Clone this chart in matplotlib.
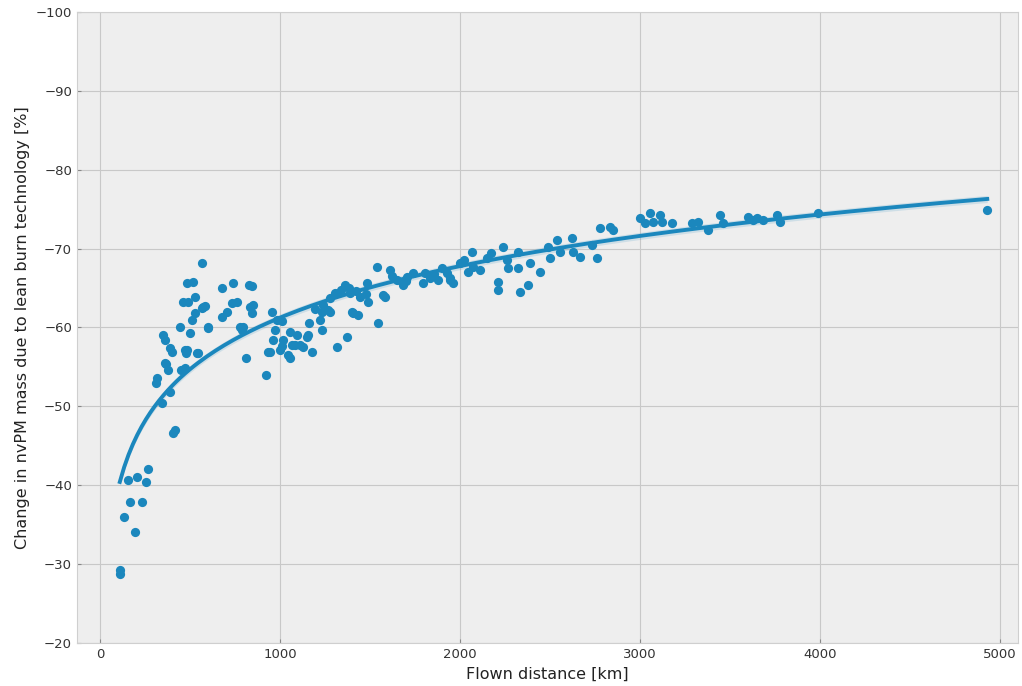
import numpy as np
import matplotlib
matplotlib.use("Agg")
import matplotlib.pyplot as plt

# flown distance [km]
distance = [
    110, 112, 133, 194, 167, 233, 156, 206, 256, 267,
    417, 406, 317, 311, 367, 344, 389, 350, 361, 389, 400,
    444, 450, 472, 472, 478, 539, 461, 489, 528, 483, 517,
    567, 511, 500, 528, 567, 583, 600, 678, 739, 828,
    678, 706, 733, 761, 789, 778, 833, 844, 811, 922, 956,
    983, 972, 933, 844, 944, 1017, 1056, 1067, 1056, 1111, 1150,
    1178, 1222, 1233, 1233, 1278, 1278, 1317, 1372, 1361, 1389,
    1400, 1433, 1444, 1483, 1489, 1544, 1539, 1572, 1583, 1611,
    1650, 1683, 1706, 1739, 1794, 1833, 1900, 1944, 1961,
    1928, 1944, 2000, 2067, 2072, 2111, 2239, 2261, 2267, 2211,
    2211, 2322, 2322, 2333, 2378, 2389, 2444, 2489, 2500, 2539,
    2556, 2622, 2628, 2667, 2733, 2761, 2778, 2833, 2850,
    3000, 3028, 3056, 3072, 3111, 3122, 3178, 3289, 3322, 3378,
    3444, 3461, 3600, 3628, 3683, 3650, 3761, 3778, 3989, 4928,
    1306, 1339, 1383, 1422, 1478, 1194, 1239, 1161, 1011, 1094,
    2022, 2044, 2150, 2172, 1856, 1878, 1011, 1806, 1700, 1622,
    961, 1044, 1083, 1128, 1156, 1267, 850, 794, 483, 544,
    600, 572, 361, 378, 1406, 1000,
]
# change in nvPM mass [%]
change = [
    -29.3, -28.7, -36.0, -34.1, -37.9, -37.9, -40.7, -41.0, -40.4, -42.1,
    -47.0, -46.6, -53.6, -53.0, -55.4, -50.4, -51.8, -59.0, -58.4, -57.4, -56.9,
    -60.0, -54.6, -54.9, -57.1, -56.8, -56.8, -63.2, -63.2, -63.9, -65.6, -65.8,
    -68.2, -61.0, -59.3, -61.8, -62.5, -62.7, -59.9, -65.0, -65.6, -65.4,
    -61.3, -62.0, -63.1, -63.2, -59.7, -60.0, -62.6, -61.8, -56.1, -54.0, -62.0,
    -61.0, -59.7, -56.9, -65.2, -56.9, -58.4, -59.4, -57.8, -56.1, -57.8, -58.8,
    -56.9, -61.0, -59.7, -62.0, -62.0, -63.7, -57.5, -58.8, -65.4, -64.4,
    -62.0, -61.6, -63.9, -65.6, -63.2, -60.6, -67.7, -64.1, -63.8, -67.3,
    -66.0, -65.4, -66.4, -66.9, -65.6, -66.3, -67.5, -66.3, -65.6,
    -66.9, -66.0, -68.2, -69.6, -67.7, -67.3, -70.2, -68.5, -67.5, -65.8,
    -64.7, -69.6, -67.5, -64.5, -65.4, -68.2, -67.0, -70.2, -68.8, -71.1,
    -69.6, -71.3, -69.6, -68.9, -70.5, -68.8, -72.6, -72.7, -72.3,
    -73.9, -73.2, -74.5, -73.4, -74.3, -73.4, -73.2, -73.2, -73.4, -72.4,
    -74.3, -73.2, -74.0, -73.6, -73.6, -73.9, -74.3, -73.4, -74.5, -74.9,
    -64.4, -64.8, -65.0, -64.6, -64.2, -62.3, -62.8, -60.5, -60.8, -59.0,
    -68.6, -67.0, -68.8, -69.4, -66.8, -66.0, -57.6, -66.9, -65.9, -66.5,
    -58.4, -56.5, -57.8, -57.5, -59.0, -62.2, -62.8, -60.0, -57.1, -56.8,
    -60.0, -62.6, -55.5, -54.6, -61.8, -57.2,
]

COLOR = "#1b87bd"

plt.style.use("bmh")
fig = plt.figure(figsize=(10.22, 6.86), dpi=100)
ax = fig.add_axes([0.0753, 0.0627, 0.921, 0.92])
ax.set_facecolor("#eeeeee")

x = np.array(distance, dtype=float)
y = np.array(change, dtype=float)
ax.scatter(x, y, s=44, color=COLOR, zorder=3, linewidths=0)

# logarithmic fit, like regplot(logx=True)
b, a = np.polyfit(np.log(x), y, 1)
xs = np.linspace(x.min(), x.max(), 200)
ys = a + b * np.log(xs)
resid = y - (a + b * np.log(x))
se = np.std(resid) / np.sqrt(len(x)) * 1.5
ax.fill_between(xs, ys - se, ys + se, color=COLOR, alpha=0.15, lw=0, zorder=3)
ax.plot(xs, ys, color=COLOR, lw=2.8, zorder=4)

ax.set_xlim(-128, 5100)
ax.set_ylim(-20, -100)
ax.set_xticks([0, 1000, 2000, 3000, 4000, 5000])
ax.set_yticks(range(-100, -19, 10))
ax.grid(True, color="#c8c8c8", lw=0.8, ls="-")
ax.set_axisbelow(True)
for sp in ax.spines.values():
    sp.set_color("#cfcfcf")
ax.tick_params(labelsize=9.5, colors="#333333", length=3, color="#888888")
ax.set_xlabel("Flown distance [km]", fontsize=11.5, color="#222222")
ax.set_ylabel("Change in nvPM mass due to lean burn technology [%]",
              fontsize=11.5, color="#222222")

fig.savefig("out.png", dpi=100)
